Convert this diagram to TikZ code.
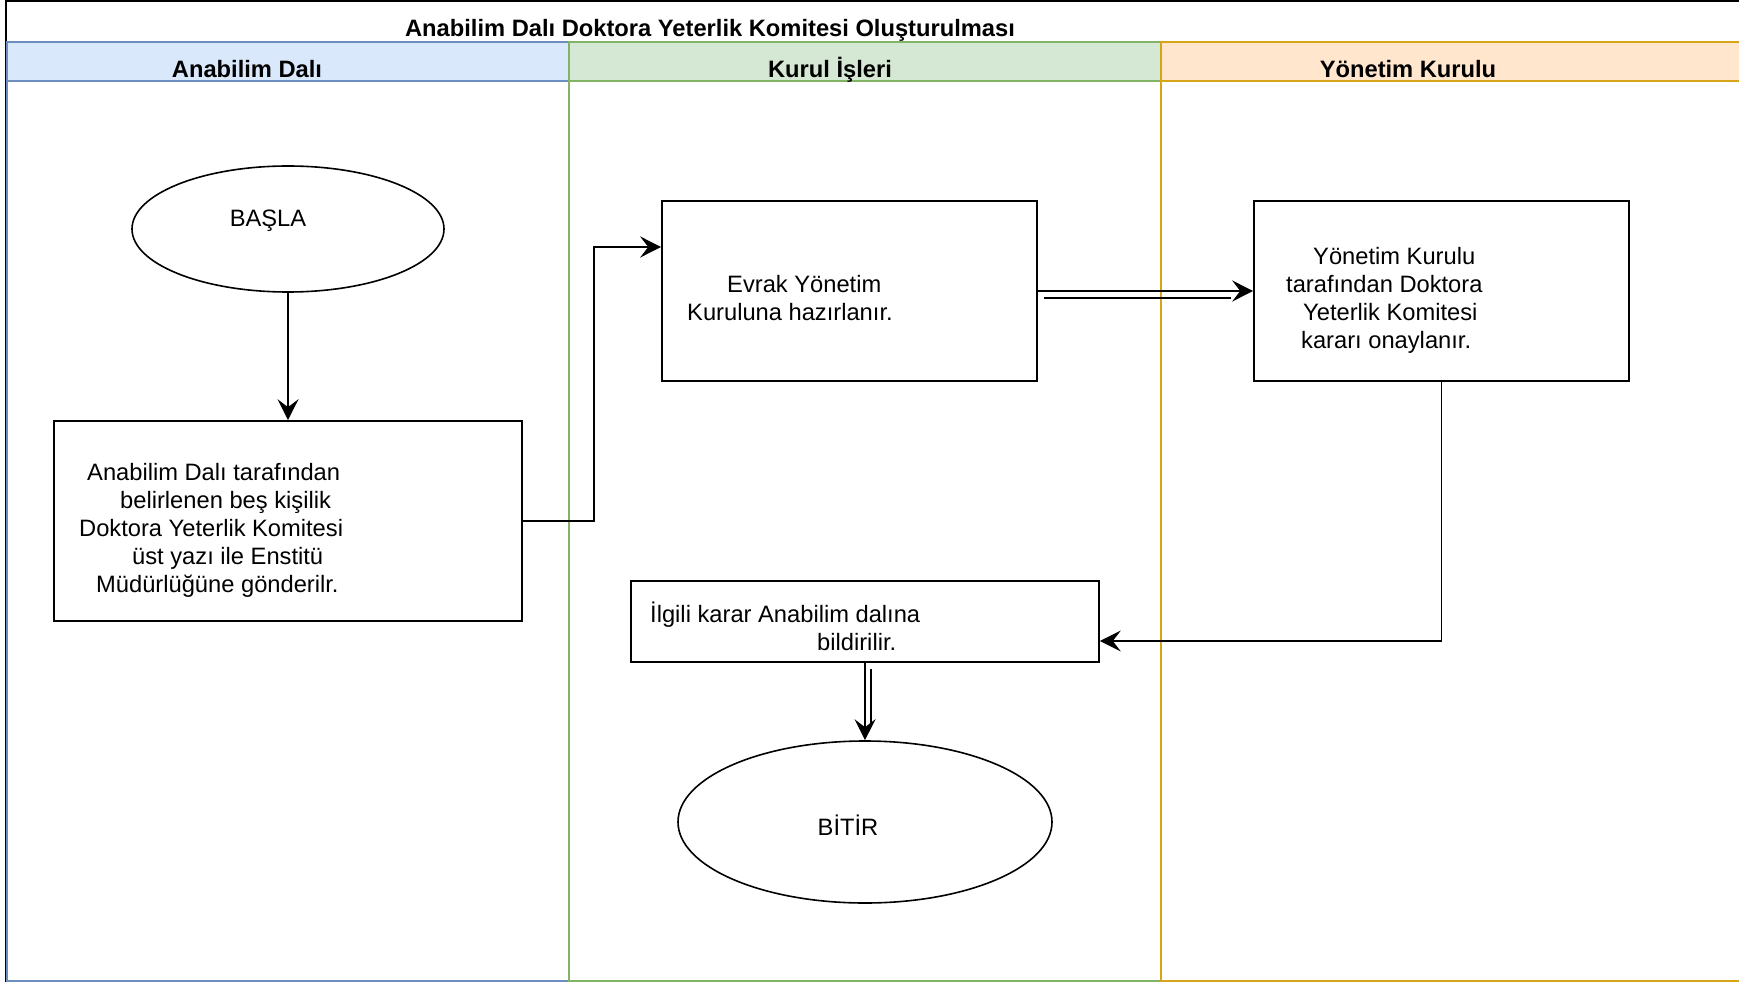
\documentclass[tikz,border=0pt]{standalone}
\usepackage{fontspec}
\setmainfont{Liberation Sans}
\usetikzlibrary{arrows.meta,shapes.geometric}

\definecolor{blueFill}{HTML}{DAE8FC}
\definecolor{blueLine}{HTML}{6C8EBF}
\definecolor{greenFill}{HTML}{D5E8D4}
\definecolor{greenLine}{HTML}{82B366}
\definecolor{orangeFill}{HTML}{FFE6CC}
\definecolor{orangeLine}{HTML}{D6A419}

\begin{document}
\begin{tikzpicture}[x=1pt,y=-1pt,
  txt/.style={font=\fontsize{23.7}{28}\selectfont, inner sep=0pt},
  boxtxt/.style={txt, align=left, anchor=west},
  hdr/.style={font=\fontsize{23.7}{28}\selectfont\bfseries, inner sep=0pt, anchor=base},
  procbox/.style={draw=black, line width=1.6pt, fill=white, rectangle, inner sep=0pt},
  termshape/.style={draw=black, line width=1.6pt, fill=white, ellipse, inner sep=0pt},
  flow/.style={draw=black, line width=1.6pt, -{Stealth[length=21pt,width=21pt,inset=8pt]}},
  plainline/.style={draw=black, line width=1.6pt},
  lanebar/.style={line width=2pt}]

\useasboundingbox (0,0) rectangle (1739,984);
\fill[white] (0,0) rectangle (1739,984);

% pool frame with its title band
\draw[black, line width=2pt] (6,1) rectangle (1760,981);

% swimlanes: body outline and header band
\draw[lanebar, draw=blueLine] (7,42) rectangle (569,981);
\filldraw[lanebar, fill=blueFill, draw=blueLine] (7,42) rectangle (569,81);
\draw[lanebar, draw=greenLine] (569,42) rectangle (1161,981);
\filldraw[lanebar, fill=greenFill, draw=greenLine] (569,42) rectangle (1161,81);
\draw[lanebar, draw=orangeLine] (1161,42) rectangle (1760,981);
\filldraw[lanebar, fill=orangeFill, draw=orangeLine] (1161,42) rectangle (1760,81);

% titles
\node[hdr] (title) at (710,37) {Anabilim Dalı Doktora Yeterlik Komitesi Oluşturulması};
\node[hdr] (h1) at (247,78) {Anabilim Dalı};
\node[hdr] (h2) at (830,78) {Kurul İşleri};
\node[hdr] (h3) at (1408,78) {Yönetim Kurulu};

% flow shapes
\node[termshape, minimum width=312pt, minimum height=126pt] (basla) at (288,229) {};
\node[procbox, minimum width=468pt, minimum height=200pt] (b1) at (288,521) {};
\node[procbox, minimum width=375pt, minimum height=180pt] (b2) at (849.5,291) {};
\node[procbox, minimum width=375pt, minimum height=180pt] (b3) at (1441.5,291) {};
\node[procbox, minimum width=468pt, minimum height=81pt] (b4) at (865,621.5) {};
\node[termshape, minimum width=374pt, minimum height=162pt] (bitir) at (865,822) {};

% texts
\node[txt, anchor=base] (tbasla) at (268,227) {BAŞLA};
\node[txt, anchor=base] (tbitir) at (848,835) {BİTİR};
\node[boxtxt] (t1) at (79,530) {\hspace*{8pt}Anabilim Dalı tarafından\\
  \hspace*{41pt}belirlenen beş kişilik\\
  Doktora Yeterlik Komitesi\\
  \hspace*{53pt}üst yazı ile Enstitü\\
  \hspace*{17pt}Müdürlüğüne gönderilr.};
\node[boxtxt] (t2) at (687,298) {\hspace*{40pt}Evrak Yönetim\\
  Kuruluna hazırlanır.};
\node[boxtxt] (t3) at (1286,300) {\hspace*{27pt}Yönetim Kurulu\\
  tarafından Doktora\\
  \hspace*{17pt}Yeterlik Komitesi\\
  \hspace*{15pt}kararı onaylanır.};
\node[boxtxt] (t4) at (650,626) {İlgili karar Anabilim dalına\\
  \hspace*{167pt}bildirilir.};

% connectors
\coordinate (e1) at (594,247);
\coordinate (e2) at (1441.5,641);
\draw[flow] (basla.south) -- (b1.north);
\draw[flow] (b1.east) -| (e1) -- (e1 -| b2.west);
\draw[flow] (b2.east) -- (b3.west);
\draw[plainline] ([shift={(6,7)}]b2.east) -- ([shift={(-22,7)}]b3.west);
\draw[flow] (b3.south) -- (e2) -- (e2 -| b4.east);
\draw[flow] (b4.south) -- (bitir.north);
\draw[plainline] ([shift={(6,6)}]b4.south) -- ([shift={(6,-17)}]bitir.north);

\end{tikzpicture}
\end{document}
